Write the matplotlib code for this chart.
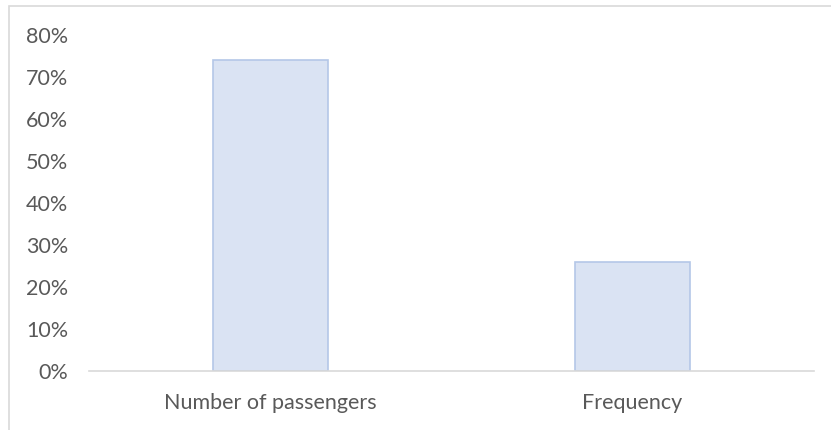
import matplotlib.pyplot as plt
from matplotlib.patches import Rectangle
from matplotlib.ticker import PercentFormatter

categories = ['Number of passengers', 'Frequency']
values = [74, 26]
y_ticks = [0, 10, 20, 30, 40, 50, 60, 70, 80]

W, H = 831, 430
fig = plt.figure(figsize=(W / 100, H / 100), dpi=100)

# light outer frame (chart area border, cropped at right/bottom)
fig.patches.append(Rectangle((9 / W, -0.1), 1.2, (H - 6) / H + 0.1,
                             transform=fig.transFigure, fill=False,
                             edgecolor='#d9d9d9', linewidth=1.2))

ax = fig.add_axes([89.5 / W, (H - 371) / H, 724 / W, 336 / H])
x = range(len(categories))
ax.bar(x, values, width=0.317, color='#dae3f3', edgecolor='#b4c7e7',
       linewidth=1.2, zorder=2)

ax.set_xlim(-0.5, 1.5)
ax.set_ylim(0, 80)
ax.set_yticks(y_ticks)
ax.yaxis.set_major_formatter(PercentFormatter(decimals=0))
ax.set_xticks(list(x))
ax.set_xticklabels(categories)

for s in ['top', 'right', 'left']:
    ax.spines[s].set_visible(False)
ax.spines['bottom'].set_color('#d9d9d9')
ax.spines['bottom'].set_linewidth(1.2)
ax.tick_params(length=0, labelsize=15.5, labelcolor='#595959')
ax.tick_params(axis='y', pad=15.5)
ax.tick_params(axis='x', pad=15.5)
for lbl in ax.get_xticklabels() + ax.get_yticklabels():
    lbl.set_family(['Lato', 'DejaVu Sans'])

fig.savefig('out.png', dpi=100)
